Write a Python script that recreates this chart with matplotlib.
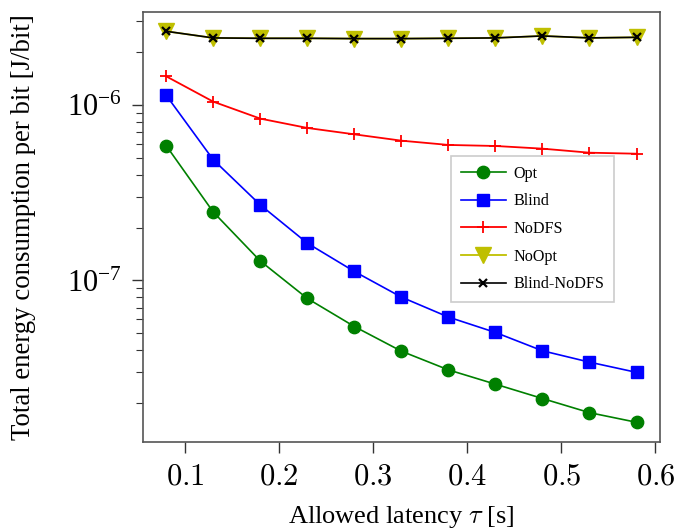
import matplotlib
matplotlib.use("Agg")
import matplotlib.pyplot as plt
from matplotlib.ticker import FuncFormatter, LogLocator, NullFormatter

plt.rcParams['font.family'] = ['Liberation Serif', 'DejaVu Serif']
plt.rcParams['mathtext.fontset'] = 'cm'

latency = [0.08, 0.13, 0.18, 0.23, 0.28, 0.33, 0.38, 0.43, 0.48, 0.53, 0.58]
opt = [5.84e-7, 2.45e-7, 1.29e-7, 7.90e-8, 5.47e-8, 3.96e-8, 3.10e-8, 2.57e-8, 2.13e-8, 1.77e-8, 1.56e-8]
blind = [1.13e-6, 4.86e-7, 2.69e-7, 1.63e-7, 1.125e-7, 8.04e-8, 6.19e-8, 5.06e-8, 3.98e-8, 3.43e-8, 3.0e-8]
nodfs = [1.449e-6, 1.040e-6, 8.33e-7, 7.37e-7, 6.78e-7, 6.24e-7, 5.90e-7, 5.82e-7, 5.62e-7, 5.33e-7, 5.26e-7]
noopt = [2.614e-6, 2.397e-6, 2.385e-6, 2.385e-6, 2.375e-6, 2.375e-6, 2.385e-6, 2.397e-6, 2.460e-6, 2.397e-6, 2.416e-6]
blind_nodfs = [2.614e-6, 2.397e-6, 2.385e-6, 2.385e-6, 2.375e-6, 2.375e-6, 2.385e-6, 2.397e-6, 2.460e-6, 2.397e-6, 2.416e-6]
xticks = [0.1, 0.2, 0.3, 0.4, 0.5, 0.6]

fig = plt.figure(figsize=(6.78, 5.31), dpi=100)
ax = fig.add_axes([0.2105, 0.1682, 0.763, 0.8098])

ax.plot(latency, opt, color='#008000', marker='o', markersize=8.9, lw=1.2, label='Opt')
ax.plot(latency, blind, color='#0000ff', marker='s', markersize=8.9, lw=1.2, label='Blind')
ax.plot(latency, nodfs, color='#ff0000', marker='+', markersize=8.5, mew=1.3, lw=1.3, label='NoDFS')
ax.plot(latency, noopt, color='#bfbf00', marker='v', markersize=11, lw=1.3, label='NoOpt')
ax.plot(latency, blind_nodfs, color='black', marker='x', markersize=6.2, mew=1.6, lw=1.2, label='Blind-NoDFS')

ax.set_yscale('log')
ax.set_xlim(0.055, 0.605)
ax.set_ylim(1.21e-8, 3.38e-6)
ax.set_xticks(xticks)
ax.xaxis.set_major_formatter(FuncFormatter(lambda v, p: f"${v:.1f}$"))
ax.yaxis.set_minor_locator(LogLocator(base=10, subs=range(2, 10)))
ax.yaxis.set_minor_formatter(NullFormatter())

ax.tick_params(axis='both', which='major', direction='out', length=8, width=1,
               labelsize=22, top=False, right=False, color='#333333', pad=7)
ax.tick_params(axis='y', which='minor', direction='out', length=5, width=0.8,
               right=False, color='#333333')
ax.tick_params(axis='x', which='minor', bottom=False, top=False)
for s in ax.spines.values():
    s.set_color('#555555')
    s.set_linewidth(1.2)

ax.set_xlabel(r'Allowed latency $\tau$ [s]', fontsize=19)
ax.set_ylabel('Total energy consumption per bit [J/bit]', fontsize=19.4)
ax.xaxis.set_label_coords(0.5, -0.145)
ax.yaxis.set_label_coords(-0.206, 0.5)

leg = ax.legend(loc='upper left', bbox_to_anchor=(0.596, 0.664), fontsize=11.6,
                fancybox=False, framealpha=1, edgecolor='#cccccc',
                handlelength=2.8, handletextpad=0.45, borderpad=0.6,
                labelspacing=0.72, borderaxespad=0)
leg.get_frame().set_linewidth(1.2)

fig.savefig('out.png', dpi=100)
